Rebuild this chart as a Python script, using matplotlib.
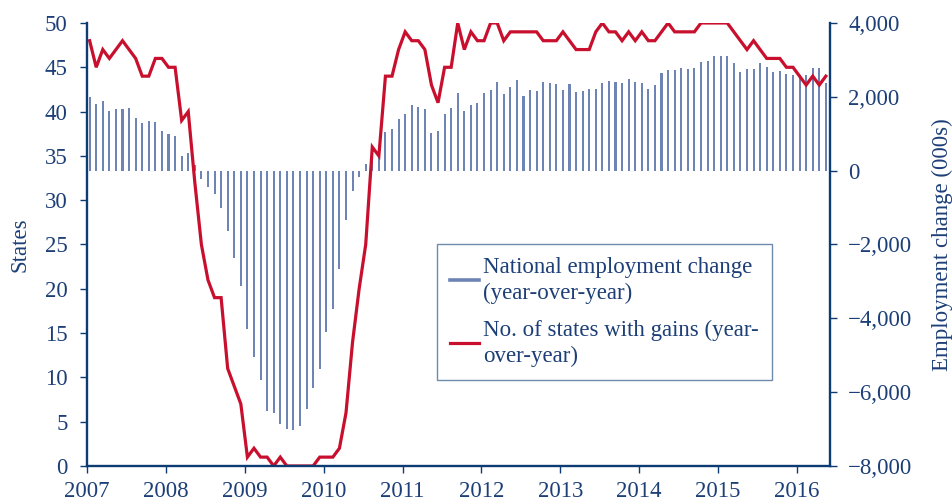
import numpy as np
import matplotlib
matplotlib.use("Agg")
import matplotlib.pyplot as plt
from matplotlib.lines import Line2D
from matplotlib.ticker import FuncFormatter

# monthly data, Jan 2007 - May 2016
start_year = 2007
employment_change = [
    1987, 1807, 1879, 1617, 1671, 1671, 1689, 1436, 1292, 1346, 1310, 1075,   # 2007
    994, 930, 407, 470, 150, -235, -434, -641, -1021, -1635, -2376, -3117,    # 2008
    -4282, -5041, -5673, -6504, -6558, -6866, -7001, -7037, -6920, -6450, -5890, -5366,  # 2009
    -4372, -3758, -2656, -1346, -551, -172, 172, 300, 425, 1048, 1120, 1409,  # 2010
    1527, 1780, 1725, 1671, 1021, 1084, 1545, 1698, 2105, 1608, 1780, 1843,   # 2011
    2105, 2195, 2403, 2078, 2258, 2457, 2014, 2195, 2168, 2403, 2376, 2340,   # 2012
    2195, 2340, 2141, 2168, 2222, 2222, 2367, 2430, 2403, 2367, 2484, 2403,   # 2013
    2367, 2204, 2313, 2638, 2719, 2719, 2773, 2755, 2782, 2936, 2972, 3107,   # 2014
    3107, 3107, 2909, 2674, 2755, 2755, 2927, 2818, 2683, 2701, 2611, 2584,   # 2015
    2584, 2584, 2773, 2773, 2367,                                             # 2016
]
states_with_gains = [
    48, 45, 47, 46, 47, 48, 47, 46, 44, 44, 46, 46,   # 2007
    45, 45, 39, 40, 32, 25, 21, 19, 19, 11, 9, 7,     # 2008
    1, 2, 1, 1, 0, 1, 0, 0, 0, 0, 0, 1,               # 2009
    1, 1, 2, 6, 14, 20, 25, 36, 35, 44, 44, 47,       # 2010
    49, 48, 48, 47, 43, 41, 45, 45, 50, 47, 49, 48,   # 2011
    48, 50, 50, 48, 49, 49, 49, 49, 49, 48, 48, 48,   # 2012
    49, 48, 47, 47, 47, 49, 50, 49, 49, 48, 49, 48,   # 2013
    49, 48, 48, 49, 50, 49, 49, 49, 49, 50, 50, 50,   # 2014
    50, 50, 49, 48, 47, 48, 47, 46, 46, 46, 45, 45,   # 2015
    44, 43, 44, 43, 44,                               # 2016
]
year_ticks = list(range(2007, 2017))

months = start_year + (np.arange(len(states_with_gains)) + 0.4) / 12

txt = '#1d3f77'
spine_c = '#0d3c74'
bar_c = '#6d84b4'
red = '#c8102e'

plt.rcParams['font.family'] = ['Liberation Serif', 'DejaVu Serif']
plt.rcParams['font.size'] = 16.5

fig = plt.figure(figsize=(9.53, 5.03), dpi=100)
ax = fig.add_axes([0.0913, 0.0736, 0.7797, 0.8807])
ax2 = ax.twinx()

ax2.bar(months, employment_change, width=0.026, color=bar_c, linewidth=0)
ax.plot(months, states_with_gains, color=red, lw=2.3, solid_joinstyle='miter')

# line above the bars
ax.set_zorder(ax2.get_zorder() + 1)
ax.patch.set_visible(False)

ax.set_xlim(2007, 2016.42)
ax.set_ylim(0, 50)
ax2.set_ylim(-8000, 4000)
ax.set_yticks(range(0, 51, 5))
ax2.set_yticks(range(-8000, 4001, 2000))
ax.set_xticks(year_ticks)
ax2.yaxis.set_major_formatter(FuncFormatter(lambda v, p: f'{v:,.0f}'.replace('-', '\u2212')))

for a in (ax, ax2):
    a.spines['top'].set_visible(False)
    for s in ('left', 'right', 'bottom'):
        a.spines[s].set_color(spine_c)
        a.spines[s].set_linewidth(1.7)
    a.tick_params(colors=spine_c, labelcolor=txt, length=5, width=1, direction='out')
ax.spines['right'].set_visible(False)
ax2.spines['left'].set_visible(False)
ax2.spines['bottom'].set_visible(False)
ax.tick_params(axis='y', pad=9)
ax.tick_params(axis='x', pad=6)
ax2.tick_params(axis='y', pad=8)

ax.set_ylabel('States', color=txt)
ax.yaxis.set_label_coords(-0.076, 0.5)
ax2.set_ylabel('Employment change (000s)', color=txt)
ax2.yaxis.set_label_coords(1.137, 0.5)

handles = [Line2D([], [], color=bar_c, lw=2.6), Line2D([], [], color=red, lw=2.3)]
labels = ['National employment change\n(year-over-year)',
          'No. of states with gains (year-\nover-year)']
leg = ax.legend(handles, labels, loc='upper left', bbox_to_anchor=(0.471, 0.501),
                borderaxespad=0, fontsize=16.5, frameon=True, fancybox=False,
                handlelength=1.27, handletextpad=0.2, labelspacing=0.7,
                borderpad=0.55, labelcolor=txt)
for t in leg.get_texts():
    t.set_linespacing(1.3)
leg.get_frame().set_edgecolor('#4a6e9a')
leg.get_frame().set_linewidth(1.0)

fig.savefig('out.png', dpi=100)
